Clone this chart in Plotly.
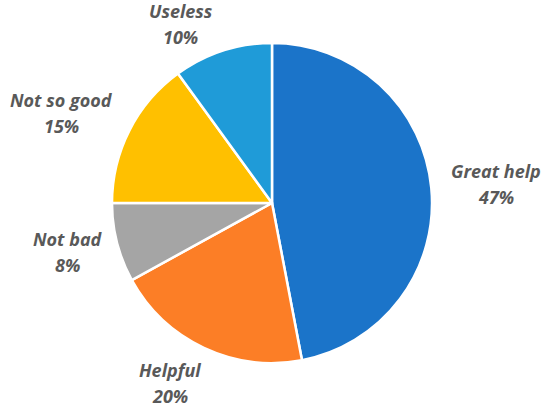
import math
import plotly.graph_objects as go

categories = ["Great help", "Helpful", "Not bad", "Not so good", "Useless"]
values = [47, 20, 8, 15, 10]
colors = ["#1B74C9", "#FC7E26", "#A5A5A5", "#FFC000", "#1F9BD8"]

# layout settings (pixels)
W, H = 550, 410
CX, CY, R = 272, 203, 160
GAP = 19
FONT_SIZE = 18
LINE_H = 40
LINE_PITCH = 26
label_nudge = {"Useless": (-26, 10), "Helpful": (-12, 0), "Not so good": (-6, 0)}

fig = go.Figure(go.Pie(
    labels=categories,
    values=values,
    sort=False,
    direction="clockwise",
    rotation=0,
    marker=dict(colors=colors, line=dict(color="white", width=2.5)),
    textinfo="none",
    hoverinfo="label+percent",
    showlegend=False,
    domain=dict(x=[(CX - R) / W, (CX + R) / W], y=[1 - (CY + R) / H, 1 - (CY - R) / H]),
))

font = dict(family="Open Sans", size=FONT_SIZE, color="#595959", weight="bold", style="italic")
total = sum(values)
cum = 0
annotations = []
for cat, v in zip(categories, values):
    mid = (cum + v / 2) / total * 2 * math.pi
    cum += v
    dx, dy = math.sin(mid), math.cos(mid)  # dy positive = up
    w = 0.51 * FONT_SIZE * max(len(cat), 3)
    px = CX + (R + GAP) * dx + dx * w / 2
    py = CY - (R + GAP) * dy - dy * LINE_H / 2
    nx, ny = label_nudge.get(cat, (0, 0))
    px += nx
    py += ny
    pct = round(v / total * 100)
    for txt, off in ((cat, -LINE_PITCH / 2), (f"{pct}%", LINE_PITCH / 2)):
        annotations.append(dict(
            x=px / W, y=1 - (py + off) / H, xref="paper", yref="paper",
            text=txt, showarrow=False,
            xanchor="center", yanchor="middle", align="center",
            font=font,
        ))

fig.update_layout(
    width=W, height=H,
    margin=dict(l=0, r=0, t=0, b=0),
    paper_bgcolor="white",
    plot_bgcolor="white",
    annotations=annotations,
)

fig.write_html("out.html", config={"displayModeBar": False},
               post_script="document.body.style.margin='0';document.body.style.overflow='hidden';")
